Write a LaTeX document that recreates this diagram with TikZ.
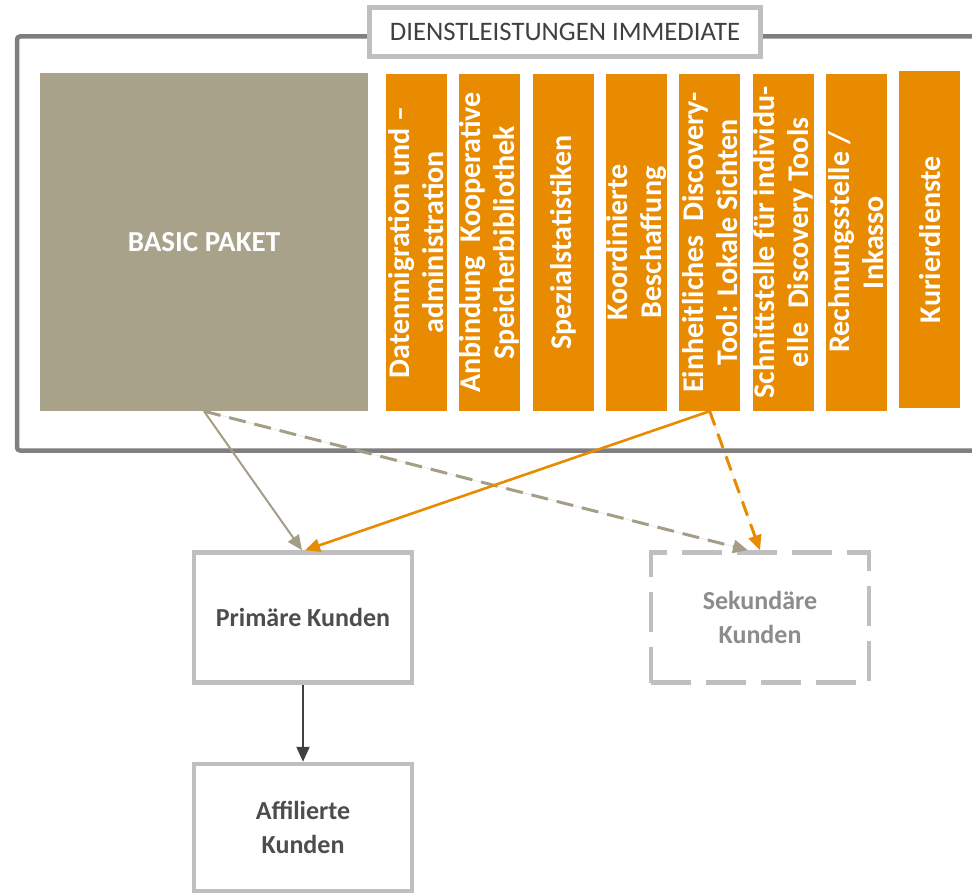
\documentclass[tikz,border=0pt]{standalone}
\usepackage{fontspec}
\setmainfont{Carlito}
\usetikzlibrary{arrows.meta}
\definecolor{orng}{HTML}{E98B00}
\definecolor{basicc}{HTML}{A9A28A}
\definecolor{framec}{HTML}{7F7F7F}
\definecolor{boxc}{HTML}{BFBFBF}
\definecolor{darktext}{HTML}{4D4D4D}
\definecolor{titletext}{HTML}{404040}
\definecolor{secotext}{HTML}{8C8C8C}
\definecolor{tanline}{HTML}{A59E87}
\definecolor{darkline}{HTML}{404040}
\tikzset{
  outerframe/.style={draw=framec, line width=4.5pt, rounded corners=3pt},
  titlebox/.style={draw=boxc, fill=white, line width=4.5pt, inner sep=0pt,
    minimum width=391pt, minimum height=49pt, text=titletext,
    font=\fontsize{26.7}{30}\selectfont},
  basicbox/.style={fill=basicc, inner sep=0pt, minimum width=328pt, minimum height=338pt,
    text=white, font=\fontsize{29}{32}\selectfont\bfseries},
  barbox/.style={fill=orng, inner sep=0pt, rotate=90, minimum width=337pt, minimum height=61pt,
    text=white, align=center, font=\fontsize{30}{34}\selectfont\bfseries},
  custbox/.style={draw=boxc, fill=white, line width=4.5pt, inner sep=0pt,
    minimum width=218pt, minimum height=130pt, text=darktext, align=center,
    font=\fontsize{26}{34.5}\selectfont\bfseries},
  secbox/.style={custbox, text=secotext, dash pattern=on 40pt off 15pt},
  tip/.style={-{Triangle[length=15pt,width=13pt]}},
  tanarrow/.style={tip, draw=tanline, fill=tanline, line width=2pt},
  tandash/.style={tanarrow, line width=3pt, dash pattern=on 17pt off 9pt},
  orarrow/.style={tip, draw=orng, fill=orng, line width=2.6pt},
  ordash/.style={orarrow, line width=3pt, dash pattern=on 15pt off 9pt},
  darkarrow/.style={tip, draw=darkline, fill=darkline, line width=2pt},
}
\begin{document}
\begin{tikzpicture}[x=1pt,y=-1pt]
\path[use as bounding box] (0,0) rectangle (972,893);
\clip (0,0) rectangle (972,893);
\fill[white] (0,0) rectangle (972,893);
\draw[outerframe] (17,36.5) rectangle (1000,450.5);
\node[titlebox] (title) at (565,32) {DIENSTLEISTUNGEN IMMEDIATE};
\node[basicbox] (basic) at (204,242) {BASIC PAKET};
\node[barbox] (b1) at (416.5,242.5) {Datenmigration und --\\administration};
\node[barbox] (b2) at (489.8,242.5) {Anbindung\ \ Kooperative\\Speicherbibliothek};
\node[barbox] (b3) at (563.1,242.5) {Spezialstatistiken};
\node[barbox] (b4) at (636.4,242.5) {Koordinierte\\Beschaffung};
\node[barbox] (b5) at (709.7,242.5) {Einheitliches\ \ Discovery-\\Tool: Lokale Sichten};
\node[barbox] (b6) at (783.0,242.5) {Schnittstelle für individu-\\elle\ \ Discovery Tools};
\node[barbox] (b7) at (856.3,242.5) {Rechnungsstelle /\\Inkasso};
\node[barbox] (b8) at (929.6,239.5) {Kurierdienste};
\node[custbox] (prim) at (303,617.5) {Primäre Kunden};
\node[secbox] (sek) at (760,617.5) {Sekundäre\\Kunden};
\node[custbox, minimum height=127pt] (aff) at (303,827.5) {Affilierte\\Kunden};
\draw[tanarrow] (basic.south) -- ([xshift=-1pt]prim.north);
\draw[tandash] (basic.south) -- ([xshift=-12pt]sek.north);
\draw[orarrow] (b5.west) -- ([xshift=2pt]prim.north);
\draw[ordash] (b5.west) -- (sek.north);
\draw[darkarrow] (prim.south) -- (aff.north);
\end{tikzpicture}
\end{document}
